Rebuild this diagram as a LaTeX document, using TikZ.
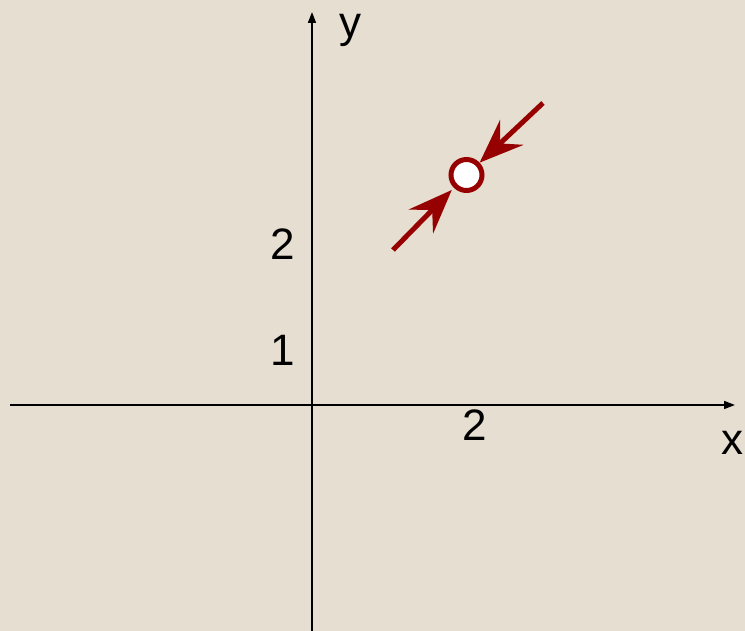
\documentclass[tikz,border=0pt]{standalone}
\usepackage{fontspec}
\setmainfont{Liberation Sans}
\usetikzlibrary{arrows.meta}
\definecolor{paper}{RGB}{230,222,208}
\definecolor{darkred}{RGB}{150,0,0}
\begin{document}
\begin{tikzpicture}[x=1pt,y=1pt,
  lbl/.style={font=\fontsize{44}{48}\selectfont,inner sep=0pt},
  axis/.style={line width=1.6pt,-{Triangle[length=11pt,width=8pt]}},
  flow/.style={line width=5pt,darkred,-{Stealth[length=44pt,width=34pt,inset=16pt]}}]
  \fill[paper] (-312,-226) rectangle (433,405);
  \useasboundingbox (-312,-226) rectangle (433,405);
  \coordinate (xs) at (-302,0);
  \coordinate (xe) at (423,0);
  \coordinate (ys) at (0,-226);
  \coordinate (ye) at (0,393);
  \draw[axis] (xs)--(xe);
  \draw[axis] (ys)--(ye);
  \node[lbl] (xlab) at (420,-38) {x};
  \node[lbl] (ylab) at (39,375) {y};
  \node[lbl] (xtwo) at (163,-20) {2};
  \node[lbl] (yone) at (-29,55) {1};
  \node[lbl] (ytwo) at (-29,161) {2};
  % fixed point and the two incoming flows
  \node[circle,draw=darkred,fill=white,line width=5pt,inner sep=0pt,minimum size=31pt] (fp) at (154.5,230) {};
  \coordinate (lo) at (81,155);
  \coordinate (hi) at (231,302);
  \draw[flow,shorten >=3pt] (lo)--(fp);
  \draw[flow] (hi)--(fp);
\end{tikzpicture}
\end{document}
